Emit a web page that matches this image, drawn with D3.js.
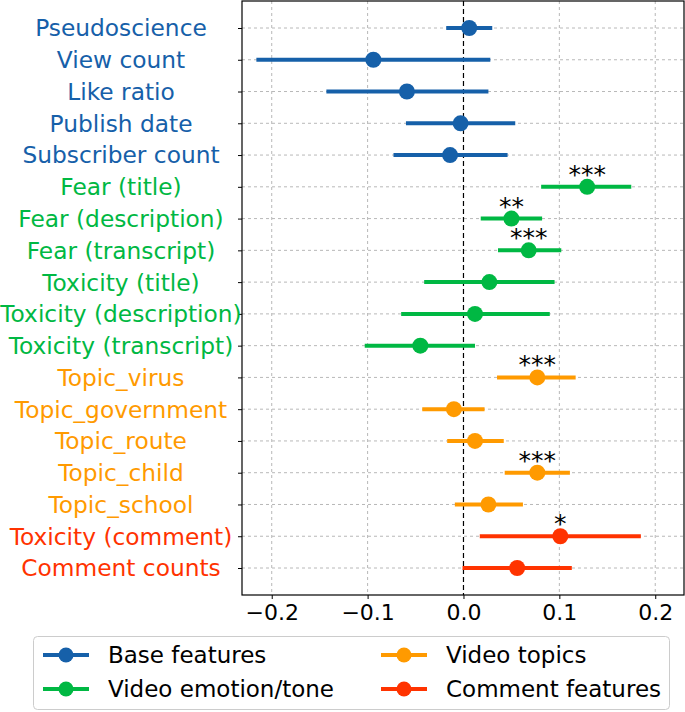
<!DOCTYPE html>
<html><head><meta charset="utf-8">
<script src="https://cdn.jsdelivr.net/npm/d3@7"></script>
<style>body{margin:0;background:#fff}svg{display:block}text{font-family:"DejaVu Sans",sans-serif}</style>
</head><body>
<svg id="c" width="685" height="712"></svg>
<script>
const features = ["Pseudoscience","View count","Like ratio","Publish date","Subscriber count",
  "Fear (title)","Fear (description)","Fear (transcript)","Toxicity (title)","Toxicity (description)",
  "Toxicity (transcript)","Topic_virus","Topic_government","Topic_route","Topic_child","Topic_school",
  "Toxicity (comment)","Comment counts"];
const groups = ["base","base","base","base","base","emo","emo","emo","emo","emo","emo",
  "topic","topic","topic","topic","topic","comment","comment"];
const estimates = [0.006,-0.094,-0.059,-0.003,-0.014,0.129,0.050,0.068,0.027,0.012,-0.045,
  0.077,-0.010,0.012,0.077,0.026,0.101,0.056];
const lower = [-0.018,-0.216,-0.143,-0.060,-0.073,0.081,0.018,0.036,-0.041,-0.065,-0.103,
  0.035,-0.043,-0.017,0.043,-0.009,0.017,-0.001];
const upper = [0.030,0.028,0.026,0.054,0.046,0.175,0.082,0.102,0.095,0.090,0.012,
  0.117,0.022,0.042,0.111,0.062,0.185,0.113];
const stars = ["","","","","","***","**","***","","","","***","","","***","","*",""];
const xTicks = [-0.2,-0.1,0.0,0.1,0.2];
const groupKeys = ["base","emo","topic","comment"];
const groupNames = ["Base features","Video emotion/tone","Video topics","Comment features"];
const groupColors = ["#1660a9","#00b843","#ff9a00","#ff3300"];

const color = d3.scaleOrdinal().domain(groupKeys).range(groupColors);
const svg = d3.select("#c");
const L=242, R=684, T=1, B=595;
const x = d3.scaleLinear().domain([-0.231,0.23]).range([L,R]);
const y = d3.scaleLinear().domain([-0.85,17.85]).range([T,B]);
const idx = d3.range(features.length);

// grid
svg.append("g").selectAll("line").data(xTicks.filter(d=>d!==0)).join("line")
  .attr("x1",d=>x(d)).attr("x2",d=>x(d)).attr("y1",T).attr("y2",B)
  .attr("stroke","#b8b8b8").attr("stroke-width",1).attr("stroke-dasharray","3,3");
svg.append("g").selectAll("line").data(idx).join("line")
  .attr("x1",L).attr("x2",R).attr("y1",i=>y(i)).attr("y2",i=>y(i))
  .attr("stroke","#b8b8b8").attr("stroke-width",1).attr("stroke-dasharray","3,3");
// zero line
svg.append("line").attr("x1",x(0)).attr("x2",x(0)).attr("y1",T).attr("y2",B)
  .attr("stroke","#000").attr("stroke-width",1.2).attr("stroke-dasharray","5,3");

// error bars
svg.append("g").selectAll("line").data(idx).join("line")
  .attr("x1",i=>x(lower[i])).attr("x2",i=>x(upper[i]))
  .attr("y1",i=>y(i)).attr("y2",i=>y(i))
  .attr("stroke",i=>color(groups[i])).attr("stroke-width",4);
svg.append("g").selectAll("circle").data(idx).join("circle")
  .attr("cx",i=>x(estimates[i])).attr("cy",i=>y(i)).attr("r",8)
  .attr("fill",i=>color(groups[i]));
svg.append("g").selectAll("text").data(idx.filter(i=>stars[i])).join("text")
  .attr("x",i=>x(estimates[i])).attr("y",i=>y(i)-4)
  .attr("text-anchor","middle").attr("font-size",25).attr("fill","#000")
  .text(i=>stars[i]);

// frame
svg.append("rect").attr("x",L).attr("y",T).attr("width",R-L).attr("height",B-T)
  .attr("fill","none").attr("stroke","#000").attr("stroke-width",1.2);

// x axis
const xa = svg.append("g").attr("transform",`translate(0,${B})`)
  .call(d3.axisBottom(x).tickValues(xTicks).tickSize(4).tickPadding(5)
    .tickFormat(d=>d3.format(".1f")(d).replace("-","\u2212")));
xa.select(".domain").remove();
xa.selectAll("text").attr("font-size",22).attr("font-family","DejaVu Sans").attr("fill","#000");
// y axis ticks
const ya = svg.append("g").attr("transform",`translate(${L},0)`)
  .call(d3.axisLeft(y).tickValues(idx).tickSize(4).tickFormat(""));
ya.select(".domain").remove();
// y labels
svg.append("g").selectAll("text").data(idx).join("text")
  .attr("x",121).attr("y",i=>y(i)).attr("dy","0.36em")
  .attr("text-anchor","middle").attr("font-size",23.3)
  .attr("fill",i=>color(groups[i])).text(i=>features[i]);

// legend
const lg = svg.append("g");
lg.append("rect").attr("x",33.5).attr("y",636.5).attr("width",636).attr("height",73)
  .attr("rx",4).attr("fill","#fff").attr("stroke","#ccc").attr("stroke-width",1);
const colX=[43,381], rowY=[655,689];
groupKeys.forEach((k,j)=>{
  const cx=colX[Math.floor(j/2)], cy=rowY[j%2];
  lg.append("line").attr("x1",cx).attr("x2",cx+46).attr("y1",cy).attr("y2",cy)
    .attr("stroke",color(k)).attr("stroke-width",4);
  lg.append("circle").attr("cx",cx+23).attr("cy",cy).attr("r",7.5).attr("fill",color(k));
  lg.append("text").attr("x",cx+65).attr("y",cy).attr("dy","0.36em")
    .attr("font-size",23).attr("fill","#000").text(groupNames[j]);
});
</script>
</body></html>
